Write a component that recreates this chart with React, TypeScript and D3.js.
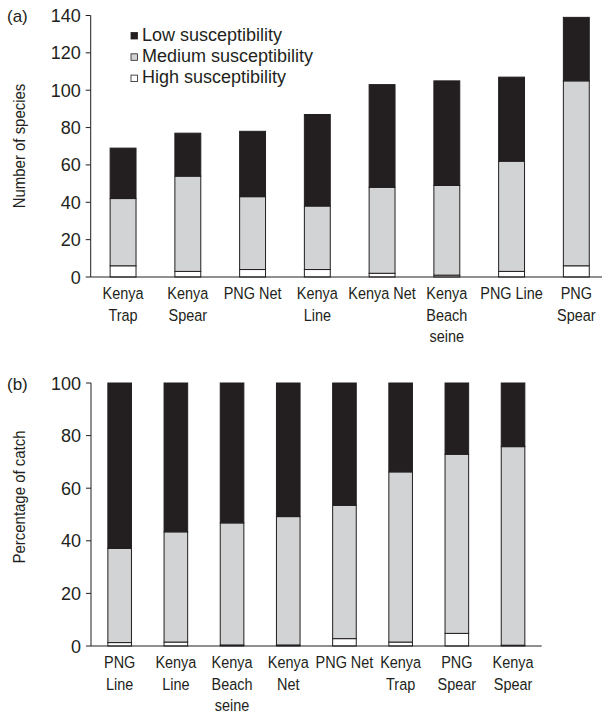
import React from "react";
import * as d3 from "d3";

// panel (a): number of species per gear
const catsA = ["Kenya Trap", "Kenya Spear", "PNG Net", "Kenya Line", "Kenya Net", "Kenya Beach seine", "PNG Line", "PNG Spear"];
const labelsA = [["Kenya", "Trap"], ["Kenya", "Spear"], ["PNG Net"], ["Kenya", "Line"], ["Kenya Net"], ["Kenya", "Beach", "seine"], ["PNG Line"], ["PNG", "Spear"]];
const highA = [6, 3, 4, 4, 2, 1, 3, 6];
const mediumA = [36, 51, 39, 34, 46, 48, 59, 99];
const lowA = [27, 23, 35, 49, 55, 56, 45, 34];
const ticksA = [0, 20, 40, 60, 80, 100, 120, 140];

// panel (b): percentage of catch
const catsB = ["PNG Line", "Kenya Line", "Kenya Beach seine", "Kenya Net", "PNG Net", "Kenya Trap", "PNG Spear", "Kenya Spear"];
const labelsB = [["PNG", "Line"], ["Kenya", "Line"], ["Kenya", "Beach", "seine"], ["Kenya", "Net"], ["PNG Net"], ["Kenya", "Trap"], ["PNG", "Spear"], ["Kenya", "Spear"]];
const highB = [1.3, 1.5, 0.4, 0.4, 2.8, 1.5, 4.8, 0.3];
const mediumB = [35.8, 41.9, 46.4, 48.8, 50.7, 64.7, 68.1, 75.5];
const lowB = [62.9, 56.6, 53.2, 50.8, 46.5, 33.8, 27.1, 24.2];
const ticksB = [0, 20, 40, 60, 80, 100];

const legendItems = ["Low susceptibility", "Medium susceptibility", "High susceptibility"];
const keys = ["high", "medium", "low"];
const colors: Record<string, string> = { high: "#ffffff", medium: "#d1d3d4", low: "#231f20" };
const ink = "#231f20";
const font = "'Liberation Sans', Arial, Helvetica, sans-serif";

type PanelProps = {
  cats: string[];
  labels: string[][];
  high: number[];
  medium: number[];
  low: number[];
  ticks: number[];
  yTop: number;
  yBottom: number;
  xRange: [number, number];
  inner: number;
  axisEnd: number;
  title: string;
  titleY: number;
  tag: string;
  legend?: boolean;
};

const Panel = (p: PanelProps) => {
  const x = d3.scaleBand().domain(p.cats).range(p.xRange).paddingInner(p.inner).paddingOuter(0.3);
  const y = d3.scaleLinear().domain([0, p.ticks[p.ticks.length - 1]]).range([p.yBottom, p.yTop]);
  const rows = p.cats.map((c, i) => ({ cat: c, high: p.high[i], medium: p.medium[i], low: p.low[i] }));
  const series = d3.stack<any>().keys(keys)(rows);
  const axisX = p.xRange[0];

  return (
    <g>
      {series.map((s) => (
        <g key={s.key}>
          {s.map((d, i) => (
            <rect
              key={i}
              x={x(d.data.cat)}
              y={y(d[1])}
              width={x.bandwidth()}
              height={y(d[0]) - y(d[1])}
              fill={colors[s.key]}
              stroke={ink}
              strokeWidth={1}
            />
          ))}
        </g>
      ))}
      {/* y axis */}
      <line x1={axisX} x2={axisX} y1={y(p.ticks[p.ticks.length - 1])} y2={p.yBottom} stroke={ink} />
      {p.ticks.map((t) => (
        <g key={t}>
          <line x1={axisX - 5} x2={axisX} y1={y(t)} y2={y(t)} stroke={ink} />
          <text x={axisX - 10} y={y(t) + 6.5} textAnchor="end" fontSize={18} fontFamily={font} fill={ink}>
            {t}
          </text>
        </g>
      ))}
      {/* x axis */}
      <line x1={axisX} x2={p.axisEnd} y1={p.yBottom} y2={p.yBottom} stroke={ink} />
      {p.cats.map((c, i) => {
        const cx = (x(c) as number) + x.bandwidth() / 2;
        return p.labels[i].map((ln, j) => (
          <text
            key={c + j}
            transform={`translate(${cx},${p.yBottom + 22 + j * 21.5}) scale(0.85,1)`}
            textAnchor="middle"
            fontSize={17}
            fontFamily={font}
            fill={ink}
          >
            {ln}
          </text>
        ));
      })}
      <text
        transform={`translate(25,${p.titleY}) rotate(-90) scale(0.88,1)`}
        textAnchor="middle"
        fontSize={17}
        fontFamily={font}
        fill={ink}
      >
        {p.title}
      </text>
      <text x={7} y={p.yTop + 6.5} fontSize={17} fontFamily={font} fill={ink}>
        {p.tag}
      </text>
      {p.legend &&
        legendItems.map((l, i) => (
          <g key={l}>
            <rect x={131} y={32.5 + i * 21.3} width={6.5} height={6.5} fill={colors[keys[2 - i]]} stroke={ink} strokeWidth={0.8} />
            <text x={142} y={40.8 + i * 21.3} fontSize={18} fontFamily={font} fill={ink}>
              {l}
            </text>
          </g>
        ))}
    </g>
  );
};

export default function App() {
  return (
    <svg width={607} height={717} style={{ position: "absolute", left: 0, top: 0, display: "block", background: "#fff" }}>
      <Panel
        cats={catsA}
        labels={labelsA}
        high={highA}
        medium={mediumA}
        low={lowA}
        ticks={ticksA}
        yTop={15.5}
        yBottom={277}
        xRange={[90.7, 608.7]}
        inner={0.6}
        axisEnd={602}
        title="Number of species"
        titleY={146}
        tag="(a)"
        legend
      />
      <Panel
        cats={catsB}
        labels={labelsB}
        high={highB}
        medium={mediumB}
        low={lowB}
        ticks={ticksB}
        yTop={383}
        yBottom={646}
        xRange={[91, 541.7]}
        inner={0.58}
        axisEnd={541.7}
        title="Percentage of catch"
        titleY={497}
        tag="(b)"
      />
    </svg>
  );
}
